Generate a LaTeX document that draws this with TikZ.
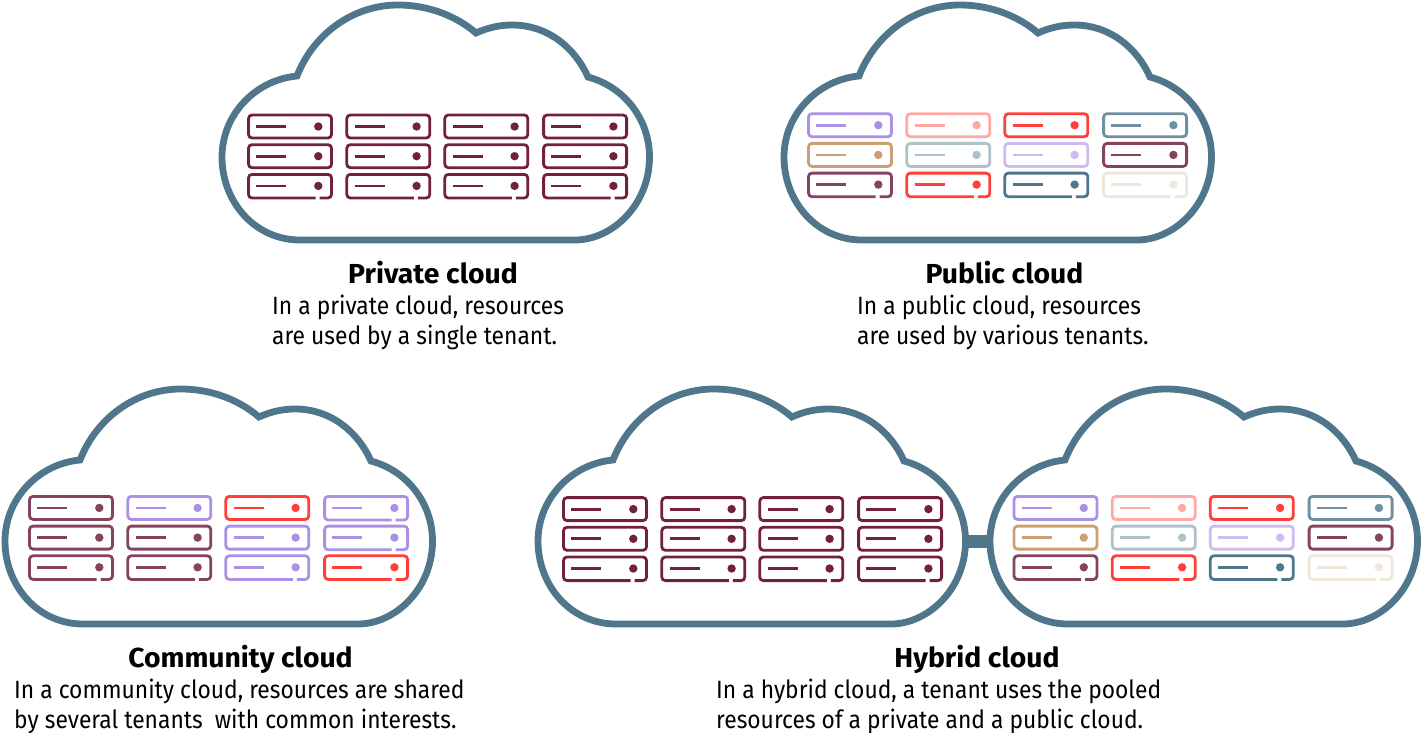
\documentclass[tikz,border=0pt]{standalone}
\usepackage{fontspec}
\setmainfont{Fira Sans}[FakeStretch=0.9125,BoldFeatures={FakeStretch=1.03}]
\definecolor{steel}{HTML}{50768C}
\definecolor{maroon}{HTML}{72213D}
\definecolor{plum}{HTML}{84435F}
\definecolor{purp}{HTML}{AB91E6}
\definecolor{lpurp}{HTML}{CDBCF2}
\definecolor{pink}{HTML}{FFA8A4}
\definecolor{redd}{HTML}{FF3F3A}
\definecolor{slate}{HTML}{6F8FA3}
\definecolor{tan2}{HTML}{CC9F72}
\definecolor{gblue}{HTML}{AFC0C9}
\definecolor{cream}{HTML}{EFE6DC}
\tikzset{
 x=1pt,y=-1pt,
 cloudline/.style={draw=steel,line width=6.8pt,miter limit=10},
 title/.style={font=\bfseries\fontsize{27.5}{30}\selectfont,anchor=base,inner sep=0pt},
 body/.style={font=\fontsize{25}{30}\selectfont,anchor=base west,inner sep=0pt},
 link/.style={draw=steel,line width=13pt},
}
\newcommand{\cloudshape}[3]{%
 \begin{scope}[shift={(#2,#3)}]
 \draw[cloudline] (300,240) .. controls (255,240) and (222,202) .. (222,157)
  .. controls (222,115) and (255,80) .. (297,76)
  .. controls (313,35) and (352,5) .. (398,5)
  .. controls (427,5) and (455,15) .. (476,33)
  .. controls (487,28) and (499,25) .. (512,25)
  .. controls (548,25) and (575,48) .. (588,77)
  .. controls (625,87) and (649.5,120) .. (649.5,157)
  .. controls (649.5,205) and (612,240) .. (575,240) -- cycle;
 \coordinate (#1-w) at (222,157);
 \coordinate (#1-e) at (649.5,157);
 \end{scope}}
\newcommand{\srvbody}[3]{%
  \draw[#3] (8.8,126.5) -- ++(30,0);
  \fill[#3] (70.8,126.5) circle (4.2);}
\newcommand{\srvgap}[3]{%
 \begin{scope}[shift={(#1,{#2*29.7})},line width=2.8pt]
  \draw[#3,line cap=butt,rounded corners=3.5pt] (72,138.6) -- (84,138.6) -- (84,115) -- (1,115) -- (1,138.6) -- (68,138.6);
  \srvbody{#1}{#2}{#3}
 \end{scope}}
\newcommand{\srvfull}[3]{%
 \begin{scope}[shift={(#1,{#2*29.7})},line width=2.8pt]
  \draw[#3,rounded corners=3.5pt] (1,115) rectangle (84,138);
  \srvbody{#1}{#2}{#3}
 \end{scope}}
\newcommand{\srv}[3]{\ifnum#2=2 \srvgap{#1}{#2}{#3}\else\srvfull{#1}{#2}{#3}\fi}
\newcommand{\rack}[2]{\def\rx{#1}\def\ry{#2}\rackcont}
\newcommand{\rackcont}[8]{%
 \def\ca{#1}\def\cb{#2}\def\cc{#3}\def\cd{#4}\def\ce{#5}\def\cf{#6}\def\cg{#7}\def\ch{#8}\rackend}
\let\lastcol\srv
\newcommand{\rackend}[4]{%
 \begin{scope}[shift={(\rx,\ry)}]
 \srv{247.5}{0}{\ca}\srv{345.8}{0}{\cb}\srv{443.8}{0}{\cc}\lastcol{542.6}{0}{\cd}
 \srv{247.5}{1}{\ce}\srv{345.8}{1}{\cf}\srv{443.8}{1}{\cg}\lastcol{542.6}{1}{\ch}
 \srv{247.5}{2}{#1}\srv{345.8}{2}{#2}\srv{443.8}{2}{#3}\lastcol{542.6}{2}{#4}
 \end{scope}}
\begin{document}
\begin{tikzpicture}
\useasboundingbox (0,0) rectangle (1421,733);
\cloudshape{priv}{0}{0}
\cloudshape{pub}{562}{0}
\cloudshape{comm}{-217}{384}
\cloudshape{hybl}{316}{384}
\cloudshape{hybr}{768}{384}
\path[link] (hybl-e) -- (hybr-w);
\rack{0}{0}{maroon}{maroon}{maroon}{maroon}{maroon}{maroon}{maroon}{maroon}{maroon}{maroon}{maroon}{maroon}
\rack{560}{-1.3}{purp}{pink}{redd}{slate}{tan2}{gblue}{lpurp}{plum}{plum}{redd}{steel}{cream}
\let\lastcol\srvgap
\rack{-219}{381.4}{plum}{purp}{redd}{purp}{plum}{plum}{purp}{purp}{plum}{plum}{purp}{redd}
\let\lastcol\srv
\rack{315}{382.6}{maroon}{maroon}{maroon}{maroon}{maroon}{maroon}{maroon}{maroon}{maroon}{maroon}{maroon}{maroon}
\rack{765.5}{381.4}{purp}{pink}{redd}{slate}{tan2}{gblue}{lpurp}{plum}{plum}{redd}{steel}{cream}
\node[title] (t1) at (433,283) {Private cloud};
\node[body] (b1a) at (272,314) {In a private cloud, resources};
\node[body] (b1b) at (272,344) {are used by a single tenant.};
\node[title] (t2) at (1004.5,283) {Public cloud};
\node[body] (b2a) at (857,314) {In a public cloud, resources};
\node[body] (b2b) at (857,344) {are used by various tenants.};
\node[title] (t3) at (240.5,667) {Community cloud};
\node[body] (b3a) at (14,698) {In a community cloud, resources are shared};
\node[body] (b3b) at (14,728) {by several tenants\ \ with common interests.};
\node[title] (t4) at (977,667) {Hybrid cloud};
\node[body] (b4a) at (716,698) {In a hybrid cloud, a tenant uses the pooled};
\node[body] (b4b) at (716,728) {resources of a private and a public cloud.};
\end{tikzpicture}
\end{document}
